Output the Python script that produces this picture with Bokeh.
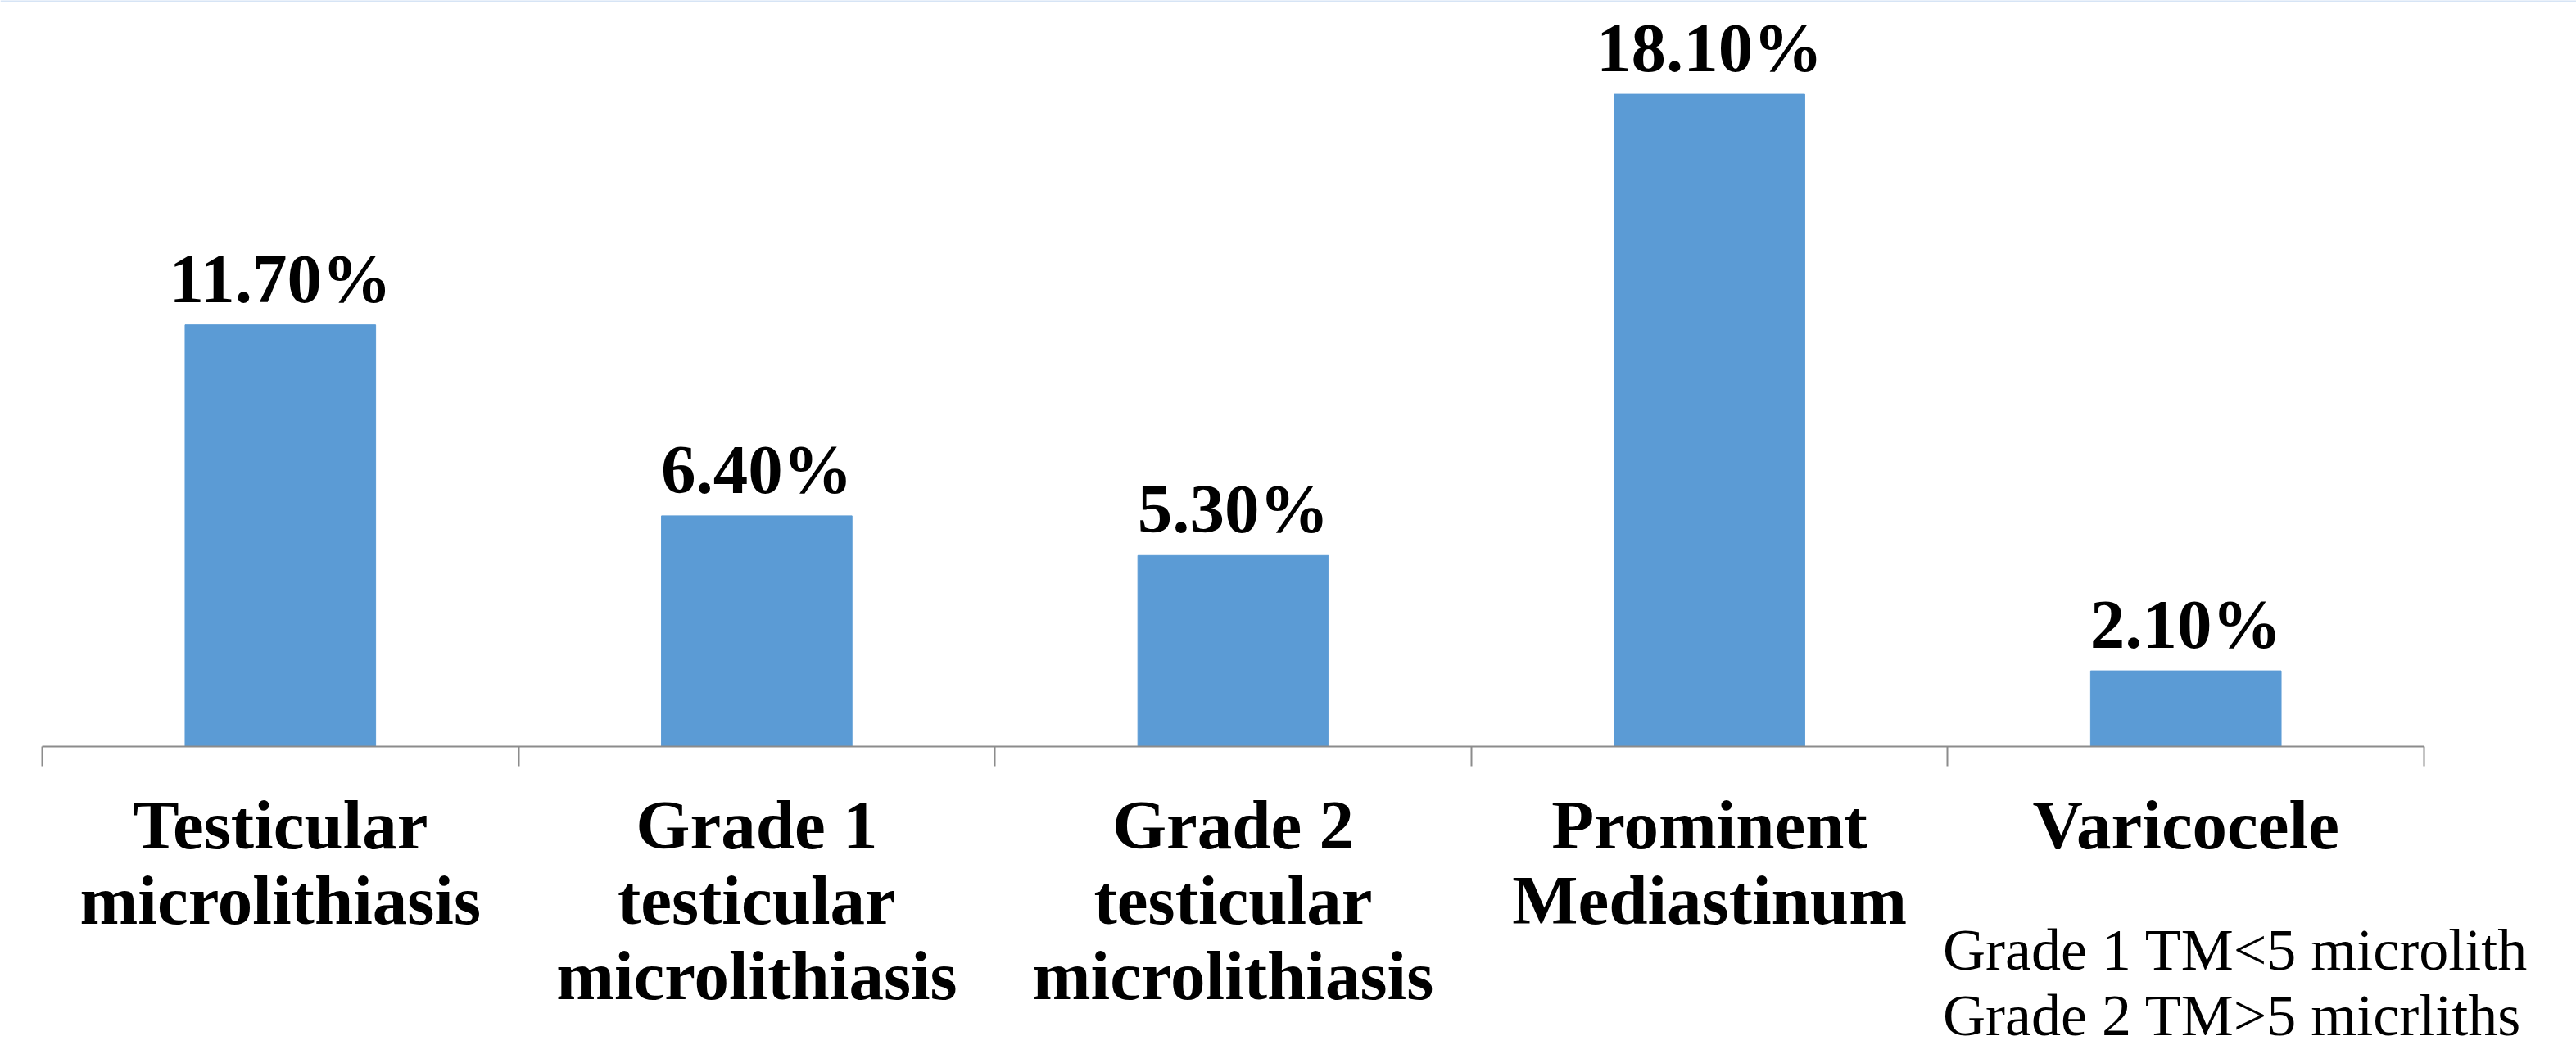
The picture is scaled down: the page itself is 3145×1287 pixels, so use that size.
from bokeh.plotting import figure
from bokeh.models import ColumnDataSource, Range1d, FixedTicker, Span, LinearAxis
from bokeh.core.properties import value
from bokeh.transform import dodge
from bokeh.embed import file_html
from bokeh.resources import INLINE

categories = ["Testicular\nmicrolithiasis",
              "Grade 1\ntesticular\nmicrolithiasis",
              "Grade 2\ntesticular\nmicrolithiasis",
              "Prominent\nMediastinum",
              "Varicocele"]
values = [11.7, 6.4, 5.3, 18.1, 2.1]
value_labels = ["11.70%", "6.40%", "5.30%", "18.10%", "2.10%"]
footnote = ["Grade 1 TM<5 microlith", "Grade 2 TM>5 micrliths"]

n = len(categories)
centers = [i + 0.5 for i in range(n)]
bounds = [float(i) for i in range(n + 1)]

FONT = "Liberation Serif"
W, H = 3145, 1287
PX_PER_CAT = 581.6      # pixels per category
PX_PER_UNIT = 44.0      # pixels per percent
LEFT, ZERO_Y = 51, 911  # pixel position of x=0 and y=0

x_start = -LEFT / PX_PER_CAT
x_end = x_start + W / PX_PER_CAT
y_end = ZERO_Y / PX_PER_UNIT
y_start = y_end - H / PX_PER_UNIT

p = figure(width=W, height=H, output_backend="svg", toolbar_location=None,
           x_range=Range1d(x_start, x_end), y_range=Range1d(y_start, y_end),
           min_border=0, x_axis_location=None, y_axis_location=None)
p.outline_line_color = None
p.background_fill_color = "white"
p.border_fill_color = "white"
p.xgrid.visible = False
p.ygrid.visible = False

src = ColumnDataSource(dict(x=centers, top=values, lab=value_labels))
p.vbar(x="x", top="top", bottom=0, width=0.4, source=src,
       fill_color="#5B9BD5", line_color="#5B9BD5", line_width=1)
p.text(x="x", y=dodge("top", 57 / PX_PER_UNIT, range=p.y_range), text="lab", source=src,
       text_align="center", text_baseline="alphabetic",
       text_font=value(FONT), text_font_style="bold", text_font_size="85px",
       text_color="black")

ax = LinearAxis(fixed_location=0, bounds=(0, n))
ax.ticker = FixedTicker(ticks=centers, minor_ticks=bounds)
ax.major_label_overrides = {c: lab for c, lab in zip(centers, categories)}
ax.axis_line_color = "#8C8C8C"
ax.axis_line_width = 2
ax.major_tick_line_color = None
ax.major_tick_out = 0
ax.major_tick_in = 0
ax.minor_tick_line_color = "#8C8C8C"
ax.minor_tick_line_width = 2
ax.minor_tick_out = 24
ax.minor_tick_in = 0
ax.major_label_standoff = 24
ax.major_label_text_font = FONT
ax.major_label_text_font_style = "bold"
ax.major_label_text_font_size = "85px"
ax.major_label_text_color = "black"
ax.major_label_text_line_height = 0.98
ax.major_label_orientation = "horizontal"
p.add_layout(ax, "below")

p.add_layout(Span(location=y_end, dimension="width", line_color="#D6E4F5", line_width=3))

fsrc = ColumnDataSource(dict(x=[3.99, 3.99], y=[-5.65, -7.47], t=footnote))
p.text(x="x", y="y", text="t", source=fsrc, text_align="left", text_baseline="alphabetic",
       text_font=value(FONT), text_font_size="72px", text_color="black")

open("out.html", "w").write(file_html(p, INLINE))
